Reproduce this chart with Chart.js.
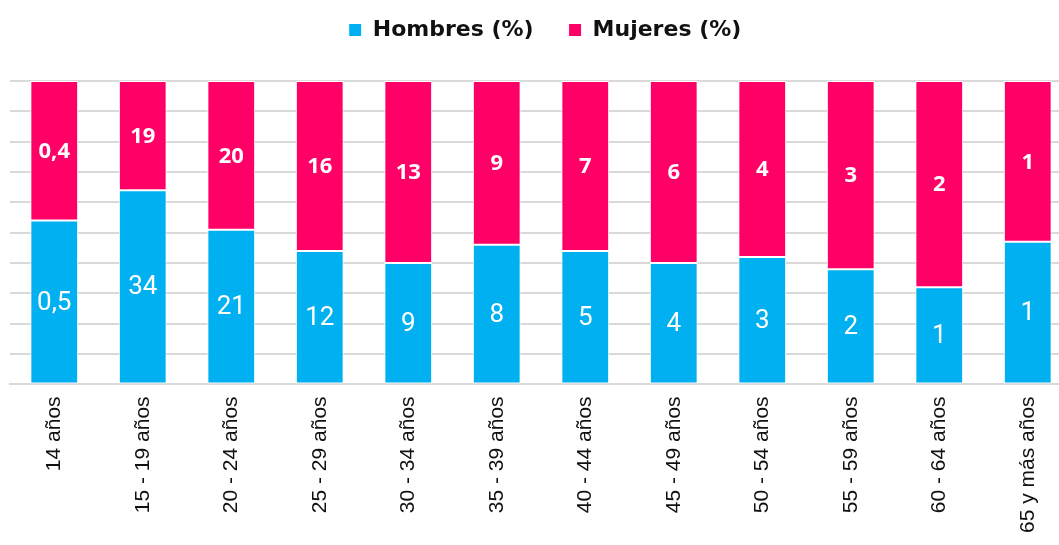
<!DOCTYPE html>
<html>
<head>
<meta charset="utf-8">
<script src="https://cdn.jsdelivr.net/npm/chart.js@4.4.1/dist/chart.umd.min.js"></script>
<style>
html,body{margin:0;padding:0;background:#fff;overflow:hidden;width:1059px;height:545px;}
#wrap{width:1072px;height:545px;position:relative;}
</style>
</head>
<body>
<div id="wrap"><canvas id="c"></canvas></div>
<script>
// Categories
const categories = ['14 años','15 - 19 años','20 - 24 años','25 - 29 años','30 - 34 años','35 - 39 años','40 - 44 años','45 - 49 años','50 - 54 años','55 - 59 años','60 - 64 años','65 y más años'];
// Share of the bar (100% stacked)
const hombresShare = [54, 64, 51, 44, 40, 46, 44, 40, 42, 38, 32, 47];
const mujeresShare = [46, 36, 49, 56, 60, 54, 56, 60, 58, 62, 68, 53];
// Value labels shown on the bars
const hombresLabels = ['0,5','34','21','12','9','8','5','4','3','2','1','1'];
const mujeresLabels = ['0,4','19','20','16','13','9','7','6','4','3','2','1'];
const yTicks = [0,10,20,30,40,50,60,70,80,90,100];

const barLabels = {
  id: 'barLabels',
  afterDatasetsDraw(chart) {
    const ctx = chart.ctx;
    chart.data.datasets.forEach((ds, di) => {
      const meta = chart.getDatasetMeta(di);
      meta.data.forEach((el, i) => {
        const cy = (el.y + el.base) / 2;
        ctx.save();
        ctx.fillStyle = '#fff';
        ctx.textAlign = 'center';
        ctx.textBaseline = 'middle';
        ctx.font = ds.labelFont;
        ctx.fillText(ds.valueLabels[i], el.x, cy + 1);
        ctx.restore();
      });
    });
  }
};

const legendSpace = {
  id: 'legendSpace',
  beforeInit(chart) {
    const orig = chart.legend.fit;
    chart.legend.fit = function () {
      orig.call(this);
      this.height += 30;
    };
  },
  afterLayout(chart) {
    chart.legend.left += 4;
    chart.legend.right += 4;
  }
};

new Chart(document.getElementById('c'), {
  type: 'bar',
  data: {
    labels: categories,
    datasets: [
      { label: 'Hombres (%)', data: hombresShare, valueLabels: hombresLabels,
        labelFont: '26px Roboto',
        backgroundColor: '#00B0F0', borderColor: '#ffffff', borderWidth: 1, borderSkipped: false },
      { label: 'Mujeres (%)', data: mujeresShare, valueLabels: mujeresLabels,
        labelFont: 'bold 22px "Open Sans"',
        backgroundColor: '#FF0066', borderColor: '#ffffff', borderWidth: 1, borderSkipped: false }
    ]
  },
  options: {
    responsive: true,
    maintainAspectRatio: false,
    animation: false,
    layout: { padding: { left: 10, right: 0, top: -16, bottom: 0 } },
    datasets: { bar: { barPercentage: 0.54, categoryPercentage: 1.0 } },
    plugins: {
      legend: {
        position: 'top',
        labels: {
          boxWidth: 13, boxHeight: 13, padding: 35,
          color: '#111',
          font: { family: 'DejaVu Sans', weight: 'bold', size: 22 }
        }
      },
      tooltip: { enabled: false }
    },
    scales: {
      x: {
        stacked: true,
        grid: { display: false, drawTicks: false },
        border: { display: true, color: '#d9d9d9', width: 2 },
        ticks: {
          color: '#111', maxRotation: 90, minRotation: 90, padding: 12, autoSkip: false,
          font: { family: 'Liberation Sans', size: 21 }
        }
      },
      y: {
        stacked: true, min: 0, max: 100,
        afterBuildTicks(scale) { scale.ticks = yTicks.map(v => ({ value: v })); },
        grid: { color: '#d9d9d9', lineWidth: 2, drawTicks: false },
        border: { display: false },
        ticks: { display: false }
      }
    }
  },
  plugins: [barLabels, legendSpace]
});
</script>
</body>
</html>
